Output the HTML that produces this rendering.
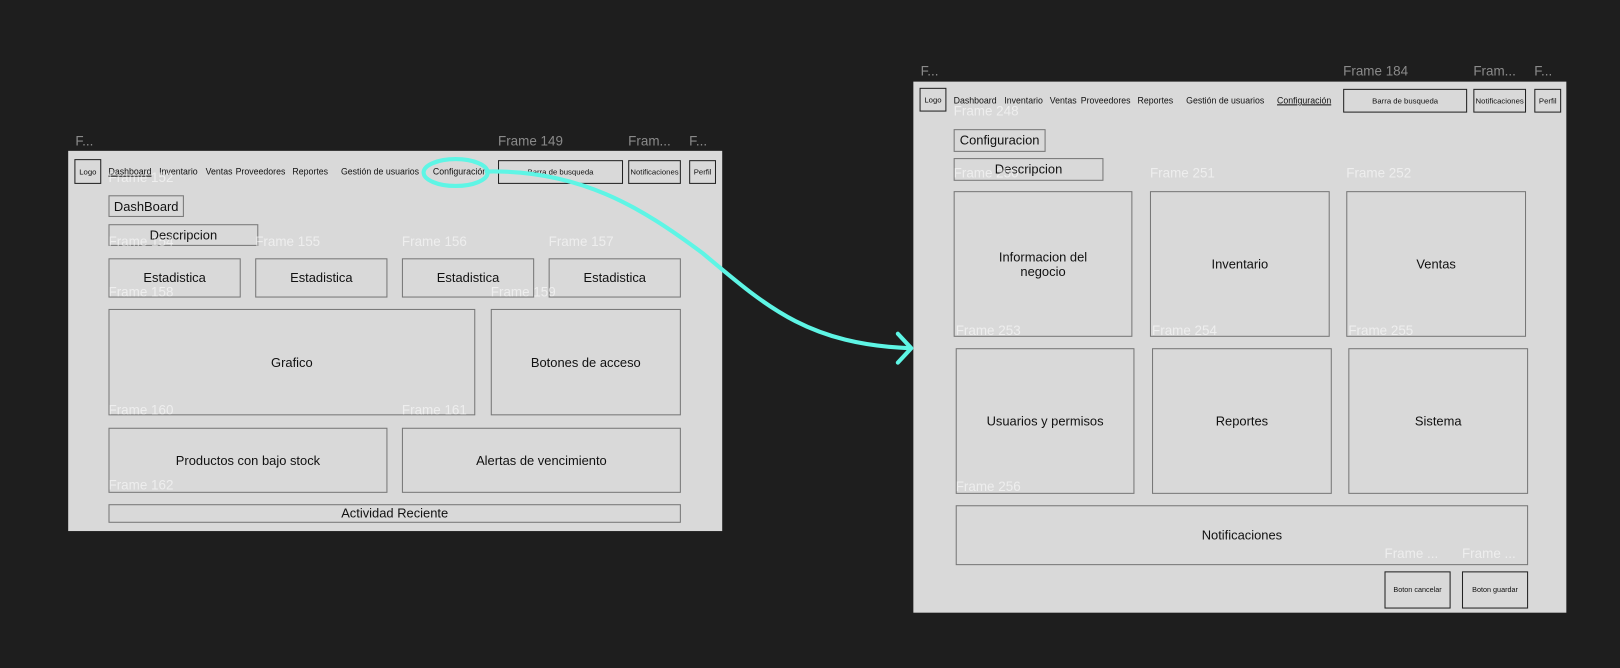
<!DOCTYPE html>
<html><head><meta charset="utf-8"><style>
html,body{margin:0;padding:0;background:#1e1e1e;width:1620px;height:668px;overflow:hidden;font-family:"Liberation Sans",sans-serif}
#w{position:absolute;left:0;top:0;width:1568px;height:647px;transform:scale(1.0332);transform-origin:0 0}
.f{position:absolute;background:#d9d9d9}
.b{position:absolute;box-sizing:border-box;border:1px solid #777;display:flex;align-items:center;justify-content:center;text-align:center;color:#111;font-size:12.5px}
.k{border:1px solid #222;font-size:7.5px}
.t{position:absolute;font-size:8.5px;color:#111;white-space:nowrap}
.l{position:absolute;font-size:13px;color:#8a8a8a;white-space:nowrap}
.o{position:absolute;font-size:13px;color:rgba(255,255,255,.55);white-space:nowrap}
</style></head><body><div id="w">
<!-- left frame -->
<div class="l" style="left:73px;top:129px">F...</div>
<div class="l" style="left:482px;top:129px">Frame 149</div>
<div class="l" style="left:608px;top:129px">Fram...</div>
<div class="l" style="left:667px;top:129px">F...</div>
<div class="f" style="left:66px;top:146px;width:633px;height:368px"></div>
<div class="b k" style="left:72px;top:154px;width:26px;height:24px">Logo</div>
<div class="t" style="left:105px;top:161px;text-decoration:underline">Dashboard</div>
<div class="t" style="left:154px;top:161px">Inventario</div>
<div class="t" style="left:199px;top:161px">Ventas</div>
<div class="t" style="left:228px;top:161px">Proveedores</div>
<div class="t" style="left:283px;top:161px">Reportes</div>
<div class="t" style="left:330px;top:161px">Gestión de usuarios</div>
<div class="t" style="left:419px;top:161px">Configuración</div>
<div class="b k" style="left:482px;top:155px;width:121px;height:23px">Barra de busqueda</div>
<div class="b k" style="left:608px;top:155px;width:51px;height:23px">Notificaciones</div>
<div class="b k" style="left:667px;top:155px;width:26px;height:23px">Perfil</div>
<div class="o" style="left:105px;top:164px">Frame 152</div>
<div class="b" style="left:105px;top:189px;width:73px;height:21px">DashBoard</div>
<div class="b" style="left:105px;top:217px;width:145px;height:21px">Descripcion</div>
<div class="o" style="left:105px;top:226px">Frame 154</div>
<div class="o" style="left:247px;top:226px">Frame 155</div>
<div class="o" style="left:389px;top:226px">Frame 156</div>
<div class="o" style="left:531px;top:226px">Frame 157</div>
<div class="b" style="left:105px;top:250px;width:128px;height:38px">Estadistica</div>
<div class="b" style="left:247px;top:250px;width:128px;height:38px">Estadistica</div>
<div class="b" style="left:389px;top:250px;width:128px;height:38px">Estadistica</div>
<div class="b" style="left:531px;top:250px;width:128px;height:38px">Estadistica</div>
<div class="o" style="left:105px;top:275px">Frame 158</div>
<div class="o" style="left:475px;top:275px">Frame 159</div>
<div class="b" style="left:105px;top:299px;width:355px;height:103px">Grafico</div>
<div class="b" style="left:475px;top:299px;width:184px;height:103px">Botones de acceso</div>
<div class="o" style="left:105px;top:389px">Frame 160</div>
<div class="o" style="left:389px;top:389px">Frame 161</div>
<div class="b" style="left:105px;top:414px;width:270px;height:63px">Productos con bajo stock</div>
<div class="b" style="left:389px;top:414px;width:270px;height:63px">Alertas de vencimiento</div>
<div class="o" style="left:105px;top:462px">Frame 162</div>
<div class="b" style="left:105px;top:488px;width:554px;height:18px">Actividad Reciente</div>
<!-- right frame -->
<div class="l" style="left:891px;top:61px">F...</div>
<div class="l" style="left:1300px;top:61px">Frame 184</div>
<div class="l" style="left:1426px;top:61px">Fram...</div>
<div class="l" style="left:1485px;top:61px">F...</div>
<div class="f" style="left:884px;top:79px;width:632px;height:514px"></div>
<div class="b k" style="left:890px;top:85px;width:26px;height:23px">Logo</div>
<div class="t" style="left:923px;top:92px">Dashboard</div>
<div class="t" style="left:972px;top:92px">Inventario</div>
<div class="t" style="left:1016px;top:92px">Ventas</div>
<div class="t" style="left:1046px;top:92px">Proveedores</div>
<div class="t" style="left:1101px;top:92px">Reportes</div>
<div class="t" style="left:1148px;top:92px">Gestión de usuarios</div>
<div class="t" style="left:1236px;top:92px;text-decoration:underline">Configuración</div>
<div class="b k" style="left:1300px;top:86px;width:120px;height:23px">Barra de busqueda</div>
<div class="b k" style="left:1426px;top:86px;width:51px;height:23px">Notificaciones</div>
<div class="b k" style="left:1485px;top:86px;width:26px;height:23px">Perfil</div>
<div class="o" style="left:923px;top:100px">Frame 248</div>
<div class="b" style="left:923px;top:125px;width:89px;height:22px">Configuracion</div>
<div class="b" style="left:923px;top:153px;width:145px;height:22px">Descripcion</div>
<div class="o" style="left:923px;top:160px">Frame 250</div>
<div class="o" style="left:1113px;top:160px">Frame 251</div>
<div class="o" style="left:1303px;top:160px">Frame 252</div>
<div class="b" style="left:923px;top:185px;width:173px;height:141px">Informacion del<br>negocio</div>
<div class="b" style="left:1113px;top:185px;width:174px;height:141px">Inventario</div>
<div class="b" style="left:1303px;top:185px;width:174px;height:141px">Ventas</div>
<div class="o" style="left:925px;top:312px">Frame 253</div>
<div class="o" style="left:1115px;top:312px">Frame 254</div>
<div class="o" style="left:1305px;top:312px">Frame 255</div>
<div class="b" style="left:925px;top:337px;width:173px;height:141px">Usuarios y permisos</div>
<div class="b" style="left:1115px;top:337px;width:174px;height:141px">Reportes</div>
<div class="b" style="left:1305px;top:337px;width:174px;height:141px">Sistema</div>
<div class="o" style="left:925px;top:463px">Frame 256</div>
<div class="b" style="left:925px;top:489px;width:554px;height:58px">Notificaciones</div>
<div class="o" style="left:1340px;top:528px">Frame ...</div>
<div class="o" style="left:1415px;top:528px">Frame ...</div>
<div class="b k" style="left:1340px;top:553px;width:64px;height:36px;font-size:7px">Boton cancelar</div>
<div class="b k" style="left:1415px;top:553px;width:64px;height:36px;font-size:7px">Boton guardar</div>
<svg style="position:absolute;left:0;top:0" width="1568" height="647">
<g fill="none" stroke="#5ef5e5" stroke-width="4" stroke-linecap="round" stroke-linejoin="round">
<ellipse cx="441" cy="167" rx="31" ry="13"/>
<path d="M471,166 C560,164 620,200 680,245 C740,295 780,333 880,337"/>
<path d="M869,323 L882,337 L869,351"/>
</g></svg>
</div></body></html>
